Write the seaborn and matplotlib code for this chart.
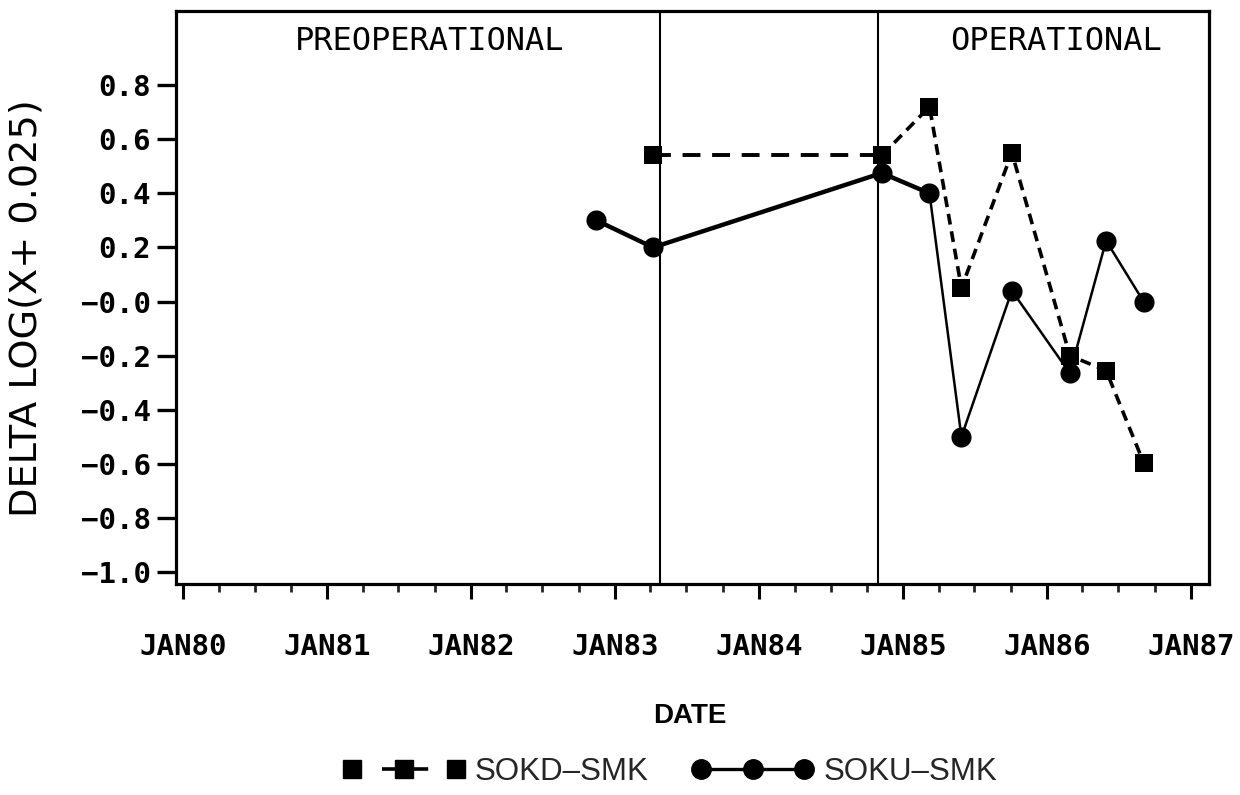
import matplotlib
matplotlib.use("Agg")
import matplotlib.pyplot as plt
import matplotlib.dates as mdates
from matplotlib.lines import Line2D
import pandas as pd
import seaborn as sns

# ---- data -------------------------------------------------------------
sokd_dates = ["1983-04-08", "1984-11-08", "1985-03-09", "1985-05-29",
              "1985-10-04", "1986-02-28", "1986-05-31", "1986-09-03"]
sokd_values = [0.54, 0.54, 0.72, 0.05, 0.55, -0.20, -0.255, -0.595]

soku_dates = ["1982-11-15", "1983-04-08", "1984-11-08", "1985-03-09",
              "1985-05-29", "1985-10-04", "1986-02-28", "1986-05-31",
              "1986-09-03"]
soku_values = [0.30, 0.20, 0.475, 0.40, -0.50, 0.04, -0.265, 0.225, 0.00]

period_breaks = ["1983-04-26", "1984-10-29"]
period_labels = ["PREOPERATIONAL", "OPERATIONAL"]

x_tick_years = [1980, 1981, 1982, 1983, 1984, 1985, 1986, 1987]
x_tick_labels = ["JAN80", "JAN81", "JAN82", "JAN83", "JAN84", "JAN85",
                 "JAN86", "JAN87"]
y_tick_values = [-1.0, -0.8, -0.6, -0.4, -0.2, 0.0, 0.2, 0.4, 0.6, 0.8]
y_tick_labels = ["\u22121.0", "\u22120.8", "\u22120.6", "\u22120.4",
                 "\u22120.2", "\u22120.0", "0.2", "0.4", "0.6", "0.8"]

series_names = ["SOKD\u2013SMK", "SOKU\u2013SMK"]

sokd = pd.DataFrame({"date": pd.to_datetime(sokd_dates), "value": sokd_values})
soku = pd.DataFrame({"date": pd.to_datetime(soku_dates), "value": soku_values})

# ---- figure -----------------------------------------------------------
sns.set_theme(style="white")
plt.rcParams["font.family"] = ["DejaVu Sans Mono", "DejaVu Sans"]

fig = plt.figure(figsize=(12.4, 7.95), dpi=100)
ax = fig.add_axes([0.1417, 0.2654, 0.8333, 0.7208])

ink = "black"
line_kw = dict(x="date", y="value", color=ink, estimator=None, sort=False,
               legend=False, ax=ax)

# SOKD: dashed connecting line
sns.lineplot(data=sokd.iloc[:2], lw=2.8, linestyle=(0, (4.6, 3.0)), **line_kw)
sns.lineplot(data=sokd.iloc[1:], lw=2.6, linestyle=(0, (3.0, 1.9)), **line_kw)
# SOKU: solid connecting line
sns.lineplot(data=soku.iloc[:4], lw=3.2, linestyle="-", **line_kw)
sns.lineplot(data=soku.iloc[3:], lw=1.8, linestyle="-", **line_kw)

# markers
sns.scatterplot(data=soku, x="date", y="value", marker="o", s=210,
                color=ink, edgecolor=ink, linewidth=0, zorder=4, ax=ax,
                legend=False)
sns.scatterplot(data=sokd, x="date", y="value", marker="s", s=175,
                color=ink, edgecolor=ink, linewidth=0, zorder=5, ax=ax,
                legend=False)

# period separators
for d in period_breaks:
    ax.axvline(pd.Timestamp(d), color=ink, lw=1.5, zorder=2)

# axes limits
ax.set_xlim(pd.Timestamp("1979-12-14"), pd.Timestamp("1987-02-16"))
ax.set_ylim(-1.044, 1.074)

# x ticks
ax.set_xticks([pd.Timestamp(f"{y}-01-01") for y in x_tick_years])
ax.set_xticklabels(x_tick_labels, fontweight="bold")
ax.xaxis.set_minor_locator(mdates.MonthLocator(bymonth=[4, 7, 10]))
ax.tick_params(axis="x", which="major", direction="out", length=11,
               width=2.2, pad=24, labelsize=21, colors=ink, bottom=True)
ax.tick_params(axis="x", which="minor", direction="out", length=6,
               width=2.0, bottom=True)

# y ticks
ax.set_yticks(y_tick_values)
ax.set_yticklabels(y_tick_labels, fontweight="bold")
ax.tick_params(axis="y", which="major", direction="out", length=14,
               width=2.4, pad=4, labelsize=21, colors=ink, left=True)

for s in ax.spines.values():
    s.set_visible(True)
    s.set_color(ink)
    s.set_linewidth(2.3)

ax.set_xlabel("")
ax.set_ylabel("")
ax.grid(False)

# period labels
for xpos, label in zip([0.246, 0.852], period_labels):
    ax.text(xpos, 0.947, label, transform=ax.transAxes,
            ha="center", va="center", fontsize=23, color=ink,
            family="DejaVu Sans Mono")

# axis titles
fig.text(27 / 1240, 1 - 308 / 795, "DELTA LOG(X+ 0.025)", rotation=90,
         ha="center", va="center", fontsize=27.5, color=ink,
         family="DejaVu Sans")
fig.text(690 / 1240, 1 - 716 / 795, "DATE", ha="center", va="center",
         fontsize=20, color=ink, family="Liberation Sans", weight="bold")

# legend
handles = [
    Line2D([], [], color=ink, lw=2.6, linestyle=(0, (2.2, 6.1, 12.8, 11)),
           marker="s", markersize=13, markerfacecolor=ink,
           markeredgecolor=ink),
    Line2D([], [], color=ink, lw=2.4, linestyle="-", marker="o",
           markersize=14, markerfacecolor=ink, markeredgecolor=ink),
]
fig.legend(handles, series_names, loc="center", ncol=2,
           bbox_to_anchor=(670 / 1240, 1 - 772 / 795), frameon=False,
           numpoints=3, handlelength=3.9, handletextpad=0.3,
           columnspacing=1.4, prop={"family": "Liberation Sans", "size": 22.5})

fig.savefig("out.png", dpi=100)
